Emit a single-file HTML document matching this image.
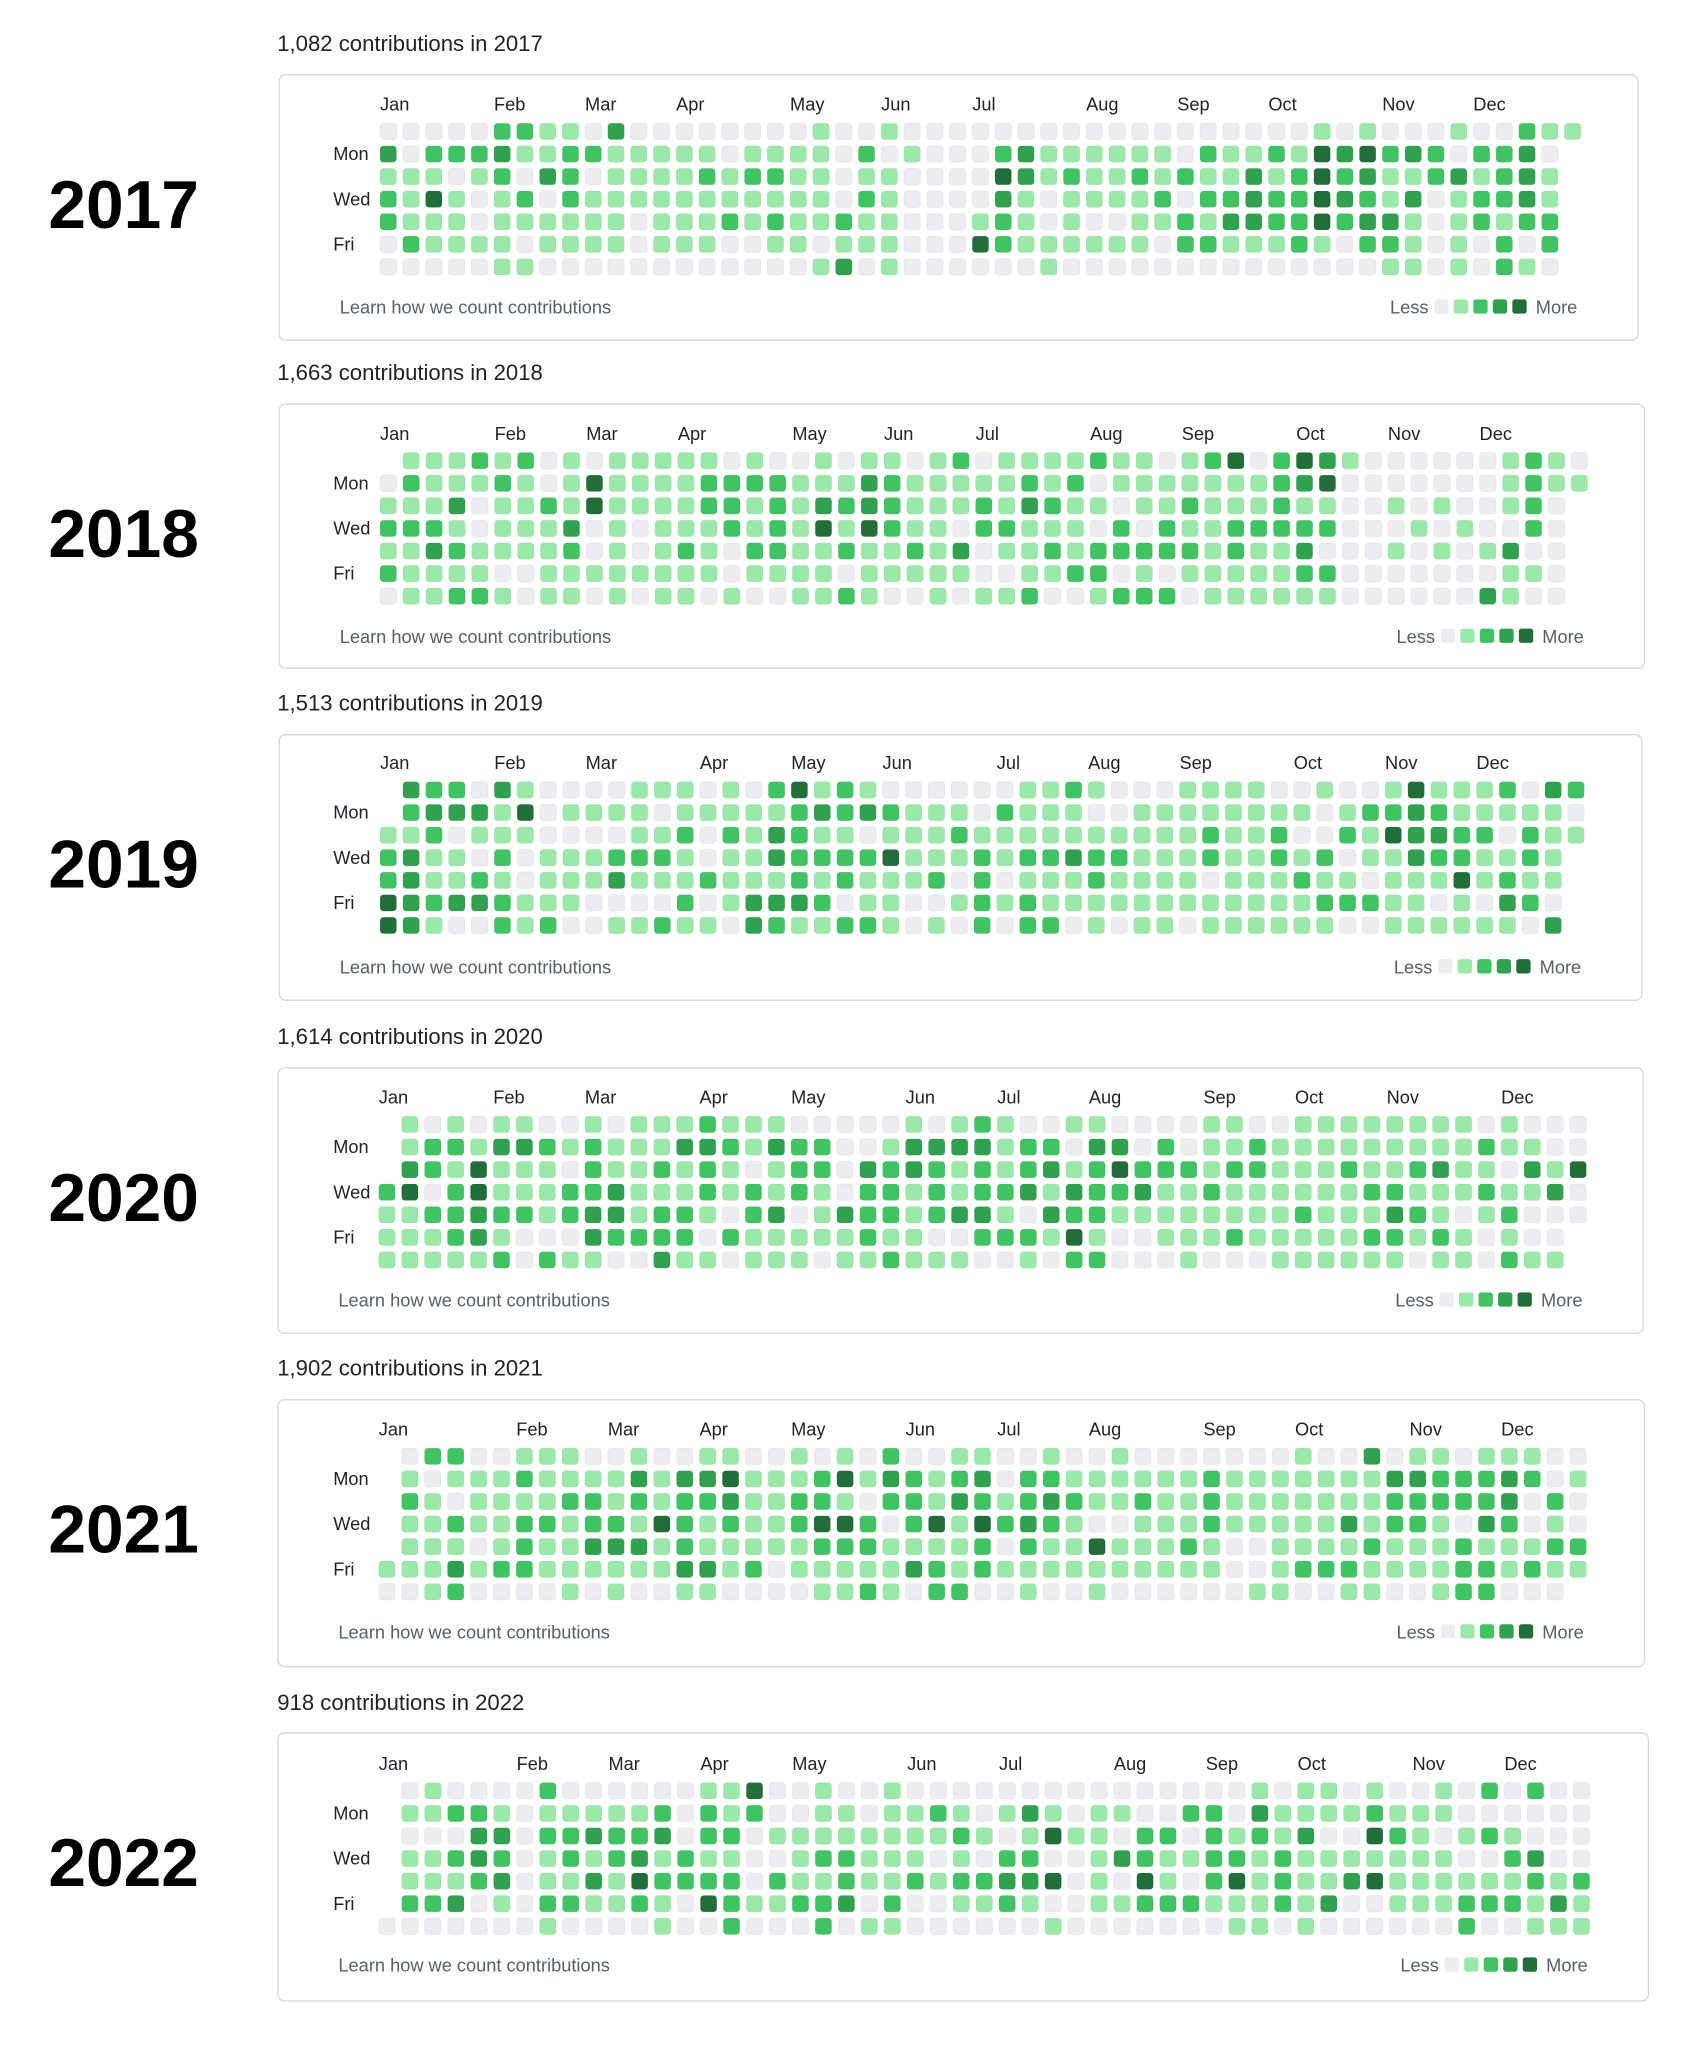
<!DOCTYPE html>
<html><head><meta charset="utf-8">
<style>
html,body{margin:0;padding:0;background:#fff;}
svg{display:block;}
text{font-family:"Liberation Sans",Arial,sans-serif;}
</style></head>
<body>
<svg id="chart" width="1692" height="2048" viewBox="0 0 1300 1573.6" xmlns="http://www.w3.org/2000/svg"></svg>
<script>
// ---- data: contribution levels per row (Sun..Sat), starting at the first existing cell of that row ----
const years = [2017, 2018, 2019, 2020, 2021, 2022];
const totals = ["1,082", "1,663", "1,513", "1,614", "1,902", "918"];
const startDays = [0, 1, 2, 3, 5, 6];
const dayCounts = [365, 365, 365, 366, 365, 365];
const monthNames = ["Jan","Feb","Mar","Apr","May","Jun","Jul","Aug","Sep","Oct","Nov","Dec"];
const dayLabels = ["Mon","Wed","Fri"];

const levels2017 = [
"00000221103000000001001000000000000000000101000100102110",
"3022231122111110111102010002311111102112143423202230",
"1110120320111121221101100004312112121131242311231231",
"2141012021111111111102100003101111202232243213012231",
"2111011111101112121121100012101001121332242331012122",
"0211110111101110011011100042111111022111210221010202",
"0000011000000000000130100000010000000000000011010210"];
levels2017[0] = "00000221103000000001001000000000000000000101000100102110".slice(0,0) + "00000221103000000001001000000000000000000101000100211";
const levels2018 = [
"111212010111110100101101201111211012402431000000121",
"02111210141111222211132111112120111111123400000001211",
"1113011214111122121323211121321101121112110010100120",
"2221011130101112121414211022111020211222220001010020",
"11321111201012102211211213011212222212113000101013",
"211110011111111011110111110011220101111122000000011",
"01122101101011010011210010112001222011111100000031"];
const levels2019 = [
"3220310000111010241210000001121000111100100141112032",
"233314011110111112323211102111001111111101223211111",
"11201110000112021321101112111111111121120021433220211",
"2311020111222101132222411121223221112112120113221121",
"23112101113111211121211120201112111101112110111412110",
"432332111000020133320110012121111111111112221101032",
"43100212001121103211221010202201011011111100111111031"];
const levels2020 = [
"10101100101112111000001012100110000110011111111010",
"12213321211133213220013333122033020112111111111211",
"3214111021121210122032321212312422212211121123110314",
"24024111223111212121022121223132231121111112211121130",
"1122322123312210230132212331032211111111211132101200",
"111231000322220211111211002221410011121111122121010",
"11111202110031101110112111001022000100011111101102111"];
const levels2021 = [
"022001110010011001010200110010010000000100301101110",
"1011121111313341112413212302211111121111111332223201",
"210111122121223112210221321232112112111111122222302",
"112112212214212112442024142321001112111113122103201",
"11101211333121111122211112021141112100111121112111221",
"11131221111113312011111321211111111110012221111221211",
"0012000010100110000112102200100100000011001100122000"];
const levels2022 = [
"0100002000000114001001000000000000000101101001020200110",
"11221011111202120011011210131011002203111121110000",
"00033022322302201111111121014110220212130042101210000",
"11232012123121100122111010220013211221211111110023",
"1112301131422220211211212233401041024121134111111212",
"2230102211210421122302001121001122211121300111222131",
"00000001000010020002011000000100000001101000000200111"];
const allLevels = [levels2017, levels2018, levels2019, levels2020, levels2021, levels2022];

// ---- layout (display coordinates) ----
const layout = [
 {title:33,  top:57,   bot:261,  left:214, right:1258, x0:292, y0:101,  px:17.5},
 {title:286, top:310,  bot:513,  left:214, right:1263, x0:292, y0:354,  px:17.6},
 {title:540, top:564,  bot:768,  left:214, right:1261, x0:292, y0:607,  px:17.55},
 {title:796, top:820,  bot:1024, left:213, right:1262, x0:291, y0:864,  px:17.6},
 {title:1051,top:1075, bot:1280, left:213, right:1263, x0:291, y0:1119, px:17.6},
 {title:1308,top:1331, bot:1537, left:213, right:1266, x0:291, y0:1376, px:17.65}];
const colors = ["#ebedf0","#9be9a8","#40c463","#30a14e","#216e39"];
const CELL = 12.6, PY = 17.35;
const NS = "http://www.w3.org/2000/svg";
const svg = document.getElementById('chart');

function mk(tag, attrs, parent){
  const e = document.createElementNS(NS, tag);
  for (const k in attrs) e.setAttribute(k, attrs[k]);
  (parent||svg).appendChild(e);
  return e;
}
function txt(s, attrs, parent){ const t = mk('text', attrs, parent); t.textContent = s; return t; }

years.forEach((yr, yi) => {
  const L = layout[yi];
  const g = mk('g', {});
  
  
  const xs = c => L.x0 + c * L.px;
  const ys = r => L.y0 - CELL/2 + r * PY;

  const big = txt(String(yr), {x:95, y:157 + (L.top - 57) + 18, 'text-anchor':'middle', 'font-size':52, 'font-weight':'bold', fill:'#000'}, g);
  
  

  const t = txt(totals[yi] + ' contributions in ' + yr, {x:213, y:L.title + 6, 'font-size':17, fill:'#1f2328'}, g);
  
  

  const box = mk('rect', {x:L.left+0.5, y:L.top+0.5, width:L.right-L.left, height:L.bot-L.top, rx:5, fill:'#fff', stroke:'#d0d7de', 'stroke-width':1}, g);
  
  

  monthNames.forEach((m, mi) => {
    let col = 0;
    if (mi > 0) {
      const d1 = Math.round((Date.UTC(yr, mi, 1) - Date.UTC(yr, 0, 1)) / 86400000);
      const wd = (d1 + startDays[yi]) % 7;
      const d = d1 + ((7 - wd) % 7);
      col = Math.floor((d + startDays[yi]) / 7);
    }
    const ml = txt(m, {x:xs(col), y:L.y0 - 16, 'font-size':14, fill:'#1f2328'}, g);
    
    
  });

  [1,3,5].forEach((r, i) => {
    const dl = txt(dayLabels[i], {x:256, y:ys(r) + 11, 'font-size':14, fill:'#1f2328'}, g);
    
    
  });

  const lv = allLevels[yi];
  for (let d = 0; d < dayCounts[yi]; d++) {
    const idx = d + startDays[yi];
    const col = Math.floor(idx / 7), row = idx % 7;
    const firstCol = row >= startDays[yi] ? 0 : 1;
    const s = lv[row];
    const ch = s[col - firstCol];
    const v = ch === undefined ? 0 : +ch;
    const c = mk('rect', {x:xs(col), y:ys(row), width:CELL, height:CELL, rx:2.6, fill:colors[v], stroke:'rgba(27,31,35,0.05)', 'stroke-width':0.8}, g);
    
    
  }

  const learn = txt('Learn how we count contributions', {x:L.left + 47, y:L.top + 184, 'font-size':14, fill:'#57606a'}, g);
  
  

  const lx = L.right - 190;
  const less = txt('Less', {x:lx, y:L.top + 184, 'font-size':14, fill:'#57606a'}, g);
  
  
  colors.forEach((col, i) => {
    const sq = mk('rect', {x:lx + 34 + i*15, y:L.top + 173, width:11, height:11, rx:2, fill:col}, g);
    
    
  });
  const more = txt('More', {x:lx + 112, y:L.top + 184, 'font-size':14, fill:'#57606a'}, g);
  
  
});
</script>
</body></html>
